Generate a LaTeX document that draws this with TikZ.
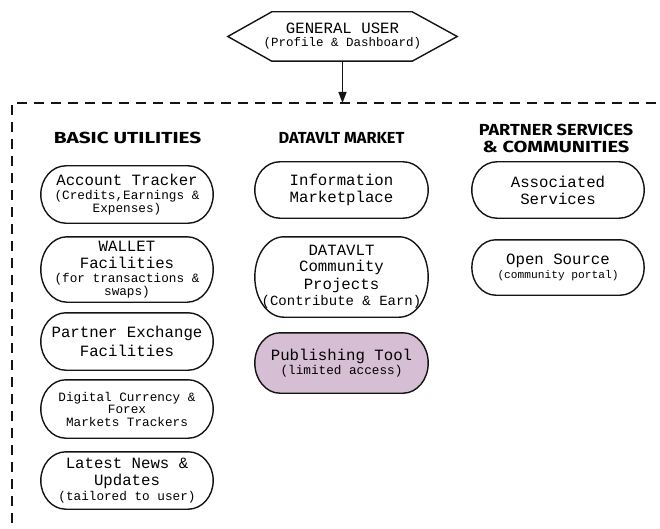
\documentclass[tikz,border=0pt]{standalone}
\usepackage{fontspec}
\setmonofont{Liberation Mono}
\newfontfamily\headfont{Fira Sans}
\usetikzlibrary{arrows.meta,calc,backgrounds}

\definecolor{inkline}{RGB}{20,20,20}
\definecolor{pubfill}{RGB}{214,190,212}

% font sizes used inside the boxes
\newcommand\mainsz{\fontsize{15.7}{17}\selectfont}
\newcommand\subsz{\fontsize{12.7}{13.3}\selectfont}
\newcommand\mt[1]{{\mainsz #1}}
% heading line, widened horizontally
\newcommand\hd[2]{\scalebox{#1}[1]{#2}}
% outline of a box with elliptical ends around node #2, ends #3 pt deep
\newcommand\pillpath[3][]{%
  \begin{scope}[on background layer]
  \draw[pilledge,#1]
    let \p1=(#2.north), \p2=(#2.south), \n1={abs(\y1-\y2)/2} in
    ($(#2.north west)+(#3,0)$) -- ($(#2.north east)+(-#3,0)$)
    arc[start angle=90,end angle=-90,x radius=#3pt,y radius=\n1]
    -- ($(#2.south west)+(#3,0)$)
    arc[start angle=270,end angle=90,x radius=#3pt,y radius=\n1]
    -- cycle;
  \end{scope}}

\begin{document}
\begin{tikzpicture}[x=1pt,y=-1pt,
  pill/.style={minimum width=172pt,inner sep=0pt,align=center,
    font=\ttfamily\subsz,text=black},
  pilledge/.style={draw=inkline,line width=1.4pt},
  heading/.style={font=\headfont\bfseries\fontsize{16}{17}\selectfont,
    align=center,inner sep=0pt},
  frame/.style={dashed,dash pattern=on 10pt off 7pt,line width=1.3pt,draw=inkline},
  link/.style={line width=1.4pt,draw=inkline,-{Triangle[length=11pt,width=8pt]}}
]
\useasboundingbox (0,0) rectangle (660,529);
\clip (0,0) rectangle (660,529);

% top user node (hexagon)
\node[minimum width=229pt,minimum height=49pt,inner sep=0pt,align=center,
      font=\ttfamily] (user) at (342.5,36.5)
  {\mt{GENERAL USER}\\[1pt]{\fontsize{12.5}{13}\selectfont(Profile \& Dashboard)}};
\draw[line width=1.4pt,draw=inkline]
  (user.west) -- ($(user.north west)+(44,0)$) -- ($(user.north east)+(-45,0)$)
  -- (user.east) -- ($(user.south east)+(-45,0)$) -- ($(user.south west)+(44,0)$)
  -- cycle;

% dashed frame holding the three columns
\coordinate (ftop) at (342.5,103);
\draw[frame] (12,540) -- (12,103) -- (670,103);
\draw[link] (user.south) -- (ftop);

% column headings
\node[heading] (hbasic) at (127.5,138) {\hd{1.3}{BASIC UTILITIES}};
\node[heading] (hmarket) at (341.5,138) {\hd{1.02}{DATAVLT MARKET}};
\node[heading] (hpartner) at (556,138.5)
  {\hd{1.13}{PARTNER SERVICES}\\\hd{1.25}{\& COMMUNITIES}};

% basic utilities
\node[pill,minimum height=57pt] (acct) at (127,194.5)
  {\mt{Account Tracker}\\[1pt](Credits,Earnings \&\\Expenses)};
\node[pill,minimum height=65pt] (wallet) at (127,269.5)
  {\mt{WALLET}\\[3.7pt]\mt{Facilities}\\[1pt](for transactions \&\\swaps)};
\node[pill,minimum height=57pt] (pex) at (127,341.5)
  {\mt{Partner Exchange}\\[3.7pt]\mt{Facilities}};
\node[pill,minimum height=58pt] (digital) at (127,409)
  {Digital Currency \&\\[-0.8pt]Forex\\[-0.8pt]Markets Trackers};
\node[pill,minimum height=57pt] (news) at (127,480.5)
  {\mt{Latest News \&}\\[3.7pt]\mt{Updates}\\[1pt](tailored to user)};

% datavlt market
\node[pill,minimum width=173pt,minimum height=56pt] (info) at (341.5,190)
  {\mt{Information}\\[3.7pt]\mt{Marketplace}};
\node[pill,minimum width=173pt,minimum height=80pt] (community) at (341.5,277)
  {\mt{DATAVLT}\\[2.2pt]\mt{Community}\\[2.2pt]\mt{Projects}\\[2pt]{\fontsize{14}{14}\selectfont(Contribute \& Earn)}};
\node[pill,minimum width=173pt,minimum height=60pt] (publish) at (341.5,363)
  {\mt{Publishing Tool}\\[1pt](limited access)};

% partner services and communities
\node[pill,minimum height=56pt] (assoc) at (558,190)
  {\mt{Associated}\\[3.7pt]\mt{Services}};
\node[pill,minimum height=55pt] (open) at (558,267.5)
  {\mt{Open Source}\\[1pt]{\fontsize{11.2}{12}\selectfont(community portal)}};

% box outlines
\pillpath{acct}{25}
\pillpath{wallet}{26}
\pillpath{pex}{25}
\pillpath{digital}{25}
\pillpath{news}{25}
\pillpath{info}{25}
\pillpath{community}{29}
\pillpath[fill=pubfill]{publish}{25}
\pillpath{assoc}{25}
\pillpath{open}{24}
\end{tikzpicture}
\end{document}
